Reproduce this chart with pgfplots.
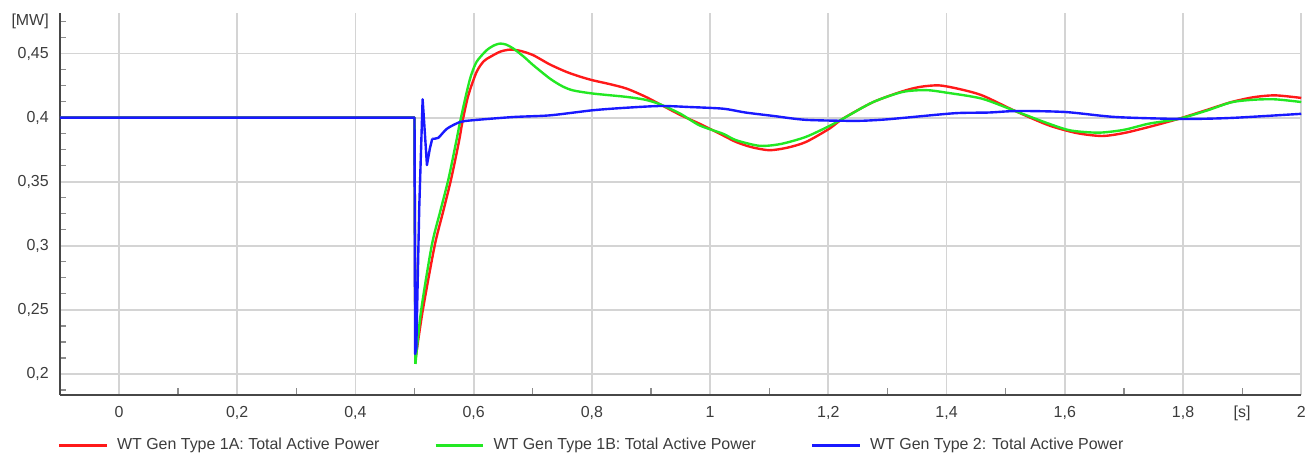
\documentclass[border=0pt]{standalone}
\usepackage{fontspec}
\setmainfont{Liberation Sans}
\usepackage{pgfplots}
\pgfplotsset{compat=1.18}
\definecolor{cred}{RGB}{255,25,25}
\definecolor{cgreen}{RGB}{35,232,35}
\definecolor{cblue}{RGB}{25,25,255}
\definecolor{ctext}{RGB}{60,60,60}
\begin{document}
\fontsize{8}{9.6}\selectfont
\begin{tikzpicture}
\begin{axis}[
  at={(0,0)}, anchor=south west,
  scale only axis, width=622.5pt, height=191.7pt,
  xmin=-0.1, xmax=2.0, ymin=0.1837, ymax=0.482,
  axis x line=bottom, axis y line=left,
  axis line style={-, line width=1pt, draw=black!72},
  xtick={0,0.2,0.4,0.6,0.8,1,1.2,1.4,1.6,1.8,2},
  ytick={0.2,0.25,0.3,0.35,0.4,0.45},
  minor xtick={0.1,0.3,0.5,0.7,0.9,1.1,1.3,1.5,1.7,1.9},
  minor ytick={0.1875,0.2125,0.225,0.2375,0.2625,0.275,0.2875,0.3125,0.325,0.3375,0.3625,0.375,0.3875,0.4125,0.425,0.4375,0.4625,0.475},
  tick align=inside,
  major tick length=0pt, minor tick length=3.2pt,
  minor tick style={draw=black!45, line width=0.6pt},
  grid=major,
  major grid style={draw=black!17, line width=0.9pt},
  extra x ticks={1.9}, extra x tick labels={[s]},
  extra y ticks={0.475}, extra y tick labels={[MW]},
  extra tick style={grid=none, major tick length=0pt},
  /pgf/number format/.cd, use comma, assume math mode=true,
  /pgfplots/.cd,
  ticklabel style={font=\fontsize{8}{9.6}\selectfont, text=ctext},
  xticklabel style={yshift=-2.8pt},
  yticklabel style={xshift=-2.7pt},
  legend columns=3,
  legend style={draw=none, fill=none, at={(-0.0016,-0.132)}, anchor=west,
    inner sep=0pt, outer sep=0pt,
    /tikz/every odd column/.append style={column sep=4.5pt},
    /tikz/every even column/.append style={column sep=27.5pt},
    nodes={inner sep=0pt, text=ctext},
    font=\fontsize{8}{9.6}\selectfont},
  legend image code/.code={\draw[#1, line width=1.2pt] (0pt,0pt) -- (24pt,0pt);},
  every axis plot/.append style={line width=1.2pt, line join=round},
]
% --- WT Gen Type 1A
\addplot[cred] coordinates {(-0.1,0.4) (0.5,0.4) (0.5015,0.211)};
\addlegendentry{WT Gen Type 1A: Total Active Power}
\addplot[cred, smooth, tension=0.45, forget plot] coordinates {
(0.5015,0.211) (0.5137,0.249) (0.534,0.30) (0.548,0.326)
(0.562,0.3522) (0.575,0.381) (0.581,0.3966) (0.591,0.4174) (0.605,0.4357)
(0.617,0.4440) (0.628,0.4474) (0.645,0.4515) (0.662,0.4531) (0.68,0.452)
(0.701,0.4487) (0.729,0.4415) (0.757,0.4357) (0.78,0.4320) (0.802,0.4291)
(0.83,0.4262) (0.8586,0.4227) (0.89,0.4165) (0.915,0.4105) (0.95,0.402)
(0.982,0.3953) (1.0216,0.3862) (1.044,0.381) (1.07,0.3770) (1.1,0.3746)
(1.13,0.3765) (1.162,0.381) (1.2017,0.3914) (1.224,0.399) (1.275,0.412)
(1.325,0.4205) (1.355,0.4240) (1.387,0.4252) (1.42,0.4225) (1.46,0.4174)
(1.517,0.405) (1.573,0.394) (1.62,0.3880) (1.663,0.3857) (1.70,0.3880)
(1.742,0.3927) (1.792,0.399) (1.84,0.4060) (1.882,0.4122) (1.92,0.4160)
(1.956,0.4174) (2.0,0.4154)
};
% --- WT Gen Type 1B
\addplot[cgreen] coordinates {(-0.1,0.4) (0.5,0.4) (0.5015,0.2078)};
\addlegendentry{WT Gen Type 1B: Total Active Power}
\addplot[cgreen, smooth, tension=0.45, forget plot] coordinates {
(0.5015,0.2078) (0.511,0.249) (0.529,0.30) (0.543,0.326)
(0.5575,0.3523) (0.5715,0.3836) (0.577,0.3966) (0.587,0.4174) (0.595,0.432)
(0.605,0.4436) (0.622,0.4526) (0.635,0.4565) (0.645,0.4578) (0.655,0.4570)
(0.667,0.454) (0.685,0.4475) (0.701,0.4409) (0.729,0.4305) (0.75,0.4245)
(0.768,0.4213) (0.802,0.4188) (0.8586,0.4162) (0.89,0.4140) (0.915,0.4105)
(0.95,0.403) (0.982,0.394) (1.0216,0.3875) (1.044,0.3824) (1.084,0.378)
(1.12,0.3795) (1.162,0.385) (1.2017,0.3935) (1.224,0.399) (1.275,0.412)
(1.325,0.420) (1.365,0.4215) (1.40,0.4195) (1.46,0.4148) (1.517,0.405)
(1.573,0.3953) (1.61,0.3900) (1.657,0.3883) (1.70,0.3905) (1.742,0.3953)
(1.792,0.399) (1.84,0.4055) (1.882,0.412) (1.92,0.4140) (1.956,0.4143)
(2.0,0.4122)
};
% --- WT Gen Type 2
\addplot[cblue] coordinates {
(-0.1,0.4) (0.5,0.4) (0.501,0.2156) (0.503,0.22) (0.508,0.33) (0.5137,0.4143)
(0.5165,0.395) (0.521,0.363) (0.526,0.376) (0.530,0.3836)};
\addlegendentry{WT Gen Type 2: Total Active Power}
\addplot[cblue, smooth, tension=0.45, forget plot] coordinates {
(0.530,0.3836) (0.540,0.3842)
(0.555,0.3914) (0.577,0.3966) (0.599,0.398) (0.667,0.4005) (0.729,0.4018)
(0.80,0.4057) (0.85,0.4075) (0.915,0.4091) (0.965,0.4083) (1.022,0.407)
(1.06,0.404) (1.106,0.4014) (1.162,0.3983) (1.246,0.3975) (1.291,0.3984)
(1.331,0.4) (1.415,0.4035) (1.471,0.404) (1.52,0.4052) (1.601,0.4044)
(1.686,0.4005) (1.798,0.399) (1.882,0.3998) (2.0,0.403)
};
\end{axis}
\useasboundingbox (-30pt,-28.5pt) rectangle (625.5pt,198pt);
\end{tikzpicture}
\end{document}
